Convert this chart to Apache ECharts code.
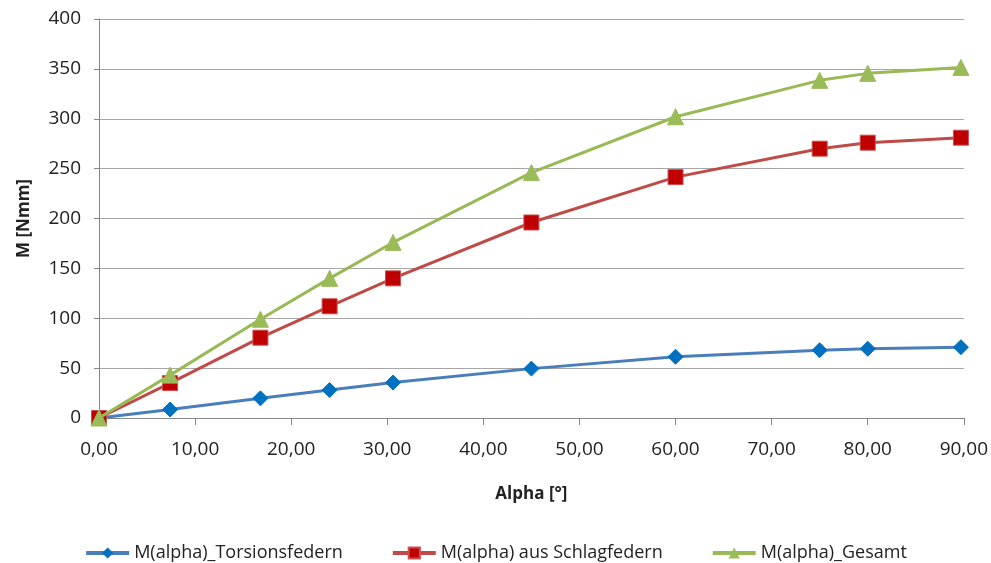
<!DOCTYPE html>
<html><head><meta charset="utf-8">
<script src="https://cdn.jsdelivr.net/npm/echarts@6/dist/echarts.min.js"></script>
<style>html,body{margin:0;padding:0;background:#fff}#c{width:991px;height:563px}</style>
</head><body><div id="c"></div>
<script>
var alpha = [0, 7.4, 16.8, 24.0, 30.6, 45, 60, 75, 80, 89.7];
var torsion = [0, 8.5, 19.7, 28, 35.5, 49.5, 61.4, 68, 69.5, 71];
var schlag = [0, 35, 80.5, 112, 140, 196, 241.5, 270, 276, 281];
var gesamt = [0, 43, 99, 140, 176, 246, 302, 338.5, 345.5, 351.5];
var seriesNames = ['M(alpha)_Torsionsfedern', 'M(alpha) aus Schlagfedern', 'M(alpha)_Gesamt'];

function pairs(ys){ return alpha.map(function(x,i){return [x, ys[i]];}); }
var font = '"Open Sans", "Noto Sans", sans-serif';
var chart = echarts.init(document.getElementById('c'));
chart.setOption({
  animation:false,
  backgroundColor:'#fff',
  textStyle:{fontFamily:font},
  grid:{left:99,right:26,top:19,bottom:145},
  legend:{
    top:539, left:'center', itemWidth:43, itemHeight:14, itemGap:48,
    lineStyle:{width:4},
    textStyle:{fontSize:18,color:'#222',fontFamily:font},
    data:seriesNames
  },
  xAxis:{
    type:'value', min:0, max:90, interval:10,
    name:'Alpha [°]', nameLocation:'middle', nameGap:68,
    nameTextStyle:{fontWeight:'bold',fontSize:17,color:'#222',fontFamily:font},
    axisLine:{show:true,lineStyle:{color:'#868686',width:1}},
    axisTick:{show:true,length:7,inside:false,lineStyle:{color:'#868686'}},
    splitLine:{show:false},
    axisLabel:{fontSize:19,color:'#222',margin:22,fontFamily:font,
      formatter:function(v){return v.toFixed(2).replace('.',',');}}
  },
  yAxis:{
    type:'value', min:0, max:400, interval:50,
    name:'M [Nmm]', nameLocation:'middle', nameGap:66, nameRotate:90,
    nameTextStyle:{fontWeight:'bold',fontSize:17,color:'#222',fontFamily:font},
    axisLine:{show:true,lineStyle:{color:'#868686',width:1}},
    axisTick:{show:true,length:5,inside:false,lineStyle:{color:'#868686'}},
    splitLine:{show:true,lineStyle:{color:'#a6a6a6',width:1}},
    axisLabel:{fontSize:19,color:'#222',margin:18,fontFamily:font}
  },
  series:[
    {name:seriesNames[0],type:'line',data:pairs(torsion),symbol:'diamond',symbolSize:15,
     lineStyle:{color:'#4a7ebb',width:3},itemStyle:{color:'#0070c0',borderColor:'#0070c0'},z:3},
    {name:seriesNames[1],type:'line',data:pairs(schlag),symbol:'rect',symbolSize:15,
     lineStyle:{color:'#be4b48',width:3},itemStyle:{color:'#c00000',borderColor:'#c8504d',borderWidth:1},z:4},
    {name:seriesNames[2],type:'line',data:pairs(gesamt),symbol:'triangle',symbolSize:16,
     lineStyle:{color:'#98b954',width:3},itemStyle:{color:'#9bbb59',borderColor:'#9bbb59'},z:5}
  ]
});
</script></body></html>
